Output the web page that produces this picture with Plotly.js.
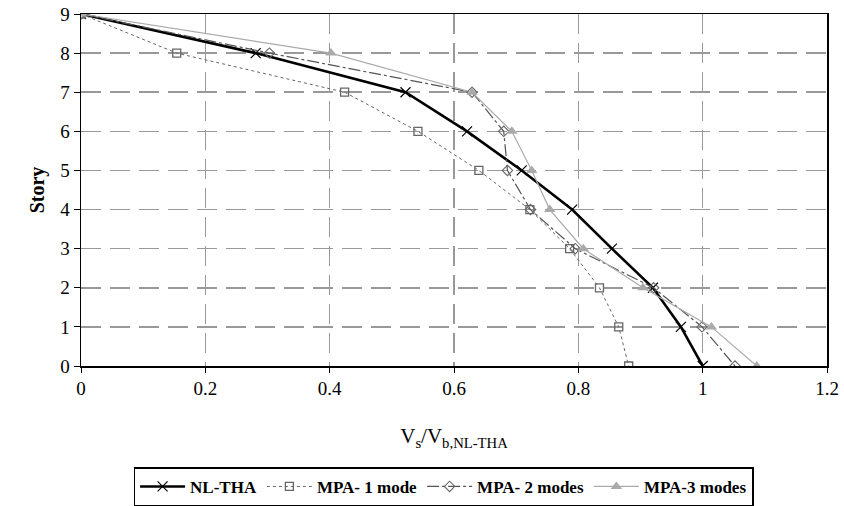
<!DOCTYPE html>
<html><head><meta charset="utf-8">
<script src="https://cdn.plot.ly/plotly-3.0.1.min.js"></script>
<style>html,body{margin:0;padding:0;background:#fff}#c{width:844px;height:506px}</style>
</head><body><div id="c"></div>
<script>
const stories = [9, 8, 7, 6, 5, 4, 3, 2, 1, 0];
const nlTHA = [0, 0.281, 0.522, 0.621, 0.709, 0.79, 0.854, 0.92, 0.965, 1.0];
const mpa1 = [0, 0.154, 0.424, 0.542, 0.64, 0.722, 0.786, 0.834, 0.865, 0.881];
const mpa2 = [0, 0.303, 0.629, 0.68, 0.686, 0.723, 0.795, 0.921, 0.999, 1.052];
const mpa3 = [0, 0.402, 0.629, 0.693, 0.725, 0.754, 0.808, 0.904, 1.014, 1.087];
const names = ["NL-THA", "MPA- 1 mode", "MPA- 2 modes", "MPA-3 modes"];
const xTicks = [0, 0.2, 0.4, 0.6, 0.8, 1, 1.2];
const yTicks = [0, 1, 2, 3, 4, 5, 6, 7, 8, 9];

const SERIF = "Liberation Serif, Times New Roman, serif";

const traces = [
  {x: nlTHA, y: stories, name: names[0], mode: "lines+markers",
   line: {color: "#000", width: 2.6},
   marker: {symbol: "x-thin-open", size: 10, color: "#000", line: {color: "#000", width: 1.2}}},
  {x: mpa1, y: stories, name: names[1], mode: "lines+markers",
   line: {color: "#666", width: 1, dash: "3px,3px"},
   marker: {symbol: "square-open", size: 8, color: "#666", line: {color: "#666", width: 1.3}}},
  {x: mpa2, y: stories, name: names[2], mode: "lines+markers",
   line: {color: "#555", width: 1.2, dash: "12px,3px,3px,3px"},
   marker: {symbol: "diamond-open", size: 8, color: "#666", line: {color: "#666", width: 1.1}}},
  {x: mpa3, y: stories, name: names[3], mode: "lines+markers",
   line: {color: "#aaa", width: 1.2},
   marker: {symbol: "triangle-up", size: 10, color: "#aaa"}}
];

const layout = {
  width: 844, height: 506,
  margin: {l: 81, r: 17, t: 14, b: 140, autoexpand: false},
  paper_bgcolor: "#fff", plot_bgcolor: "#fff",
  font: {family: SERIF, color: "#000"},
  showlegend: true,
  legend: {orientation: "h", x: 0.486, xanchor: "center", y: -0.288, yanchor: "top",
    bordercolor: "#000", borderwidth: 1.5, bgcolor: "#fff",
    font: {family: SERIF, size: 17, color: "#000", weight: "bold"},
    itemwidth: 45, tracegroupgap: 0},
  xaxis: {range: [0, 1.2], tickvals: xTicks, ticktext: xTicks.map(String),
    automargin: false,
    showgrid: true, gridcolor: "#999", griddash: "20px,9px", gridwidth: 1.5,
    showline: true, linecolor: "#000", linewidth: 1.5, mirror: true,
    ticks: "outside", ticklen: 5, tickcolor: "#000",
    zeroline: false, tickfont: {family: SERIF, size: 19},
    title: {text: "V<sub>s</sub>/V<sub>b,NL-THA</sub>", font: {family: SERIF, size: 21}, standoff: 30}},
  yaxis: {range: [0, 9], tickvals: yTicks,
    automargin: false,
    showgrid: true, gridcolor: "#999", griddash: "20px,9px", gridwidth: 1.5,
    showline: true, linecolor: "#000", linewidth: 1.5, mirror: true,
    ticks: "outside", ticklen: 6, tickcolor: "#000",
    zeroline: false, tickfont: {family: SERIF, size: 19},
    title: {text: "<b>Story</b>", font: {family: SERIF, size: 20}, standoff: 10}}
};
Plotly.newPlot("c", traces, layout, {displayModeBar: false, staticPlot: true});
</script></body></html>
